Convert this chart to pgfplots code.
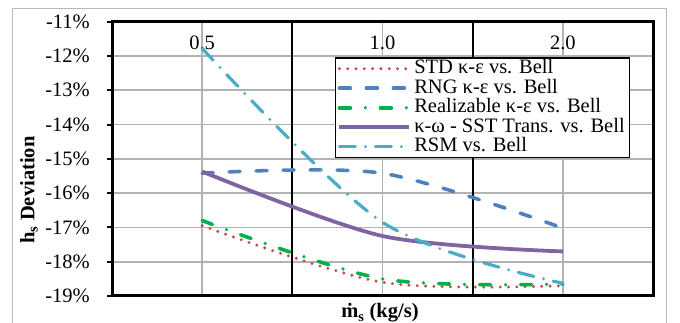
\documentclass[border=0pt]{standalone}
\usepackage{fontspec}
\setmainfont{Liberation Serif}
\usepackage{pgfplots}
\pgfplotsset{compat=1.18}
\definecolor{cstd}{HTML}{C0504D}
\definecolor{crng}{HTML}{4F81BD}
\definecolor{creal}{HTML}{00B050}
\definecolor{csst}{HTML}{8064A2}
\definecolor{crsm}{HTML}{4BACC6}
\begin{document}
\fontsize{20.5}{22}\selectfont
\begin{tikzpicture}[x=1pt,y=1pt]
\path[use as bounding box] (0,0) rectangle (680,323);
\draw[gray!55, line width=1.5pt] (12.3,-20) rectangle (666.7,314.7);
\begin{axis}[
 at={(112pt,27pt)}, anchor=south west, scale only axis,
 width=541pt, height=274.3pt,
 xmin=0, xmax=6, ymin=-19, ymax=-11,
 ytick={-19,...,-11},
 yticklabels={-19\%,-18\%,-17\%,-16\%,-15\%,-14\%,-13\%,-12\%,-11\%},
 xtick={1,3,5}, xticklabels={0.5,1.0,2.0}, xticklabel pos=upper,
 xticklabel style={anchor=center, yshift=-26pt, inner sep=0pt},
 yticklabel style={anchor=east, inner sep=0pt, xshift=-17pt},
 ytick pos=left,
 tick align=outside, major tick length=5pt,
 x tick style={draw=none},
 y tick style={black, line width=2pt},
 xmajorgrids, ymajorgrids,
 major grid style={gray!60, line width=1.7pt},
 extra x ticks={2,4}, extra x tick labels={},
 extra x tick style={grid=major, major grid style={black, line width=2pt}, tick style={draw=none}},
 axis line style={line width=3pt},
 legend cell align=left,
 legend style={at={(0.412,0.870)}, anchor=north west, draw=black, line width=1.2pt,
   fill=white, inner xsep=2pt, inner ysep=1pt, row sep=0pt,
   nodes={inner xsep=3pt, inner ysep=0.75pt, text height=14pt, text depth=4pt}},
 legend image code/.code={\draw[#1] (0pt,0pt) -- (70pt,0pt);},
]
\addplot[cstd, line width=3.3pt, line cap=round, dash pattern=on 0pt off 8.3pt, smooth]
  coordinates {(1,-16.95) (3,-18.60) (5,-18.70)};
\addlegendentry{STD κ-ε vs. Bell}
\addplot[crng, line width=3.6pt, line cap=round, dash pattern=on 11pt off 16pt, smooth]
  coordinates {(1,-15.42) (3,-15.42) (5,-17.02)};
\addlegendentry{RNG κ-ε vs. Bell}
\addplot[creal, line width=3.6pt, line cap=round, dash pattern=on 11pt off 15pt on 0pt off 15pt, smooth]
  coordinates {(1,-16.80) (3,-18.50) (5,-18.65)};
\addlegendentry{Realizable κ-ε vs. Bell}
\addplot[csst, line width=3.8pt, smooth]
  coordinates {(1,-15.37) (3,-17.25) (5,-17.70)};
\addlegendentry{κ-ω - SST Trans. vs. Bell}
\addplot[crsm, line width=3.2pt, line cap=round, dash pattern=on 16pt off 10pt on 0pt off 10pt, smooth]
  coordinates {(1,-11.78) (3,-16.85) (5,-18.63)};
\addlegendentry{RSM vs. Bell}
\end{axis}
\node[rotate=90, font=\bfseries] at (29,133) {h\textsubscript{s} Deviation};
\node[font=\bfseries, anchor=base] at (380,5) {\.{m}\textsubscript{s} (kg/s)};
\end{tikzpicture}
\end{document}
